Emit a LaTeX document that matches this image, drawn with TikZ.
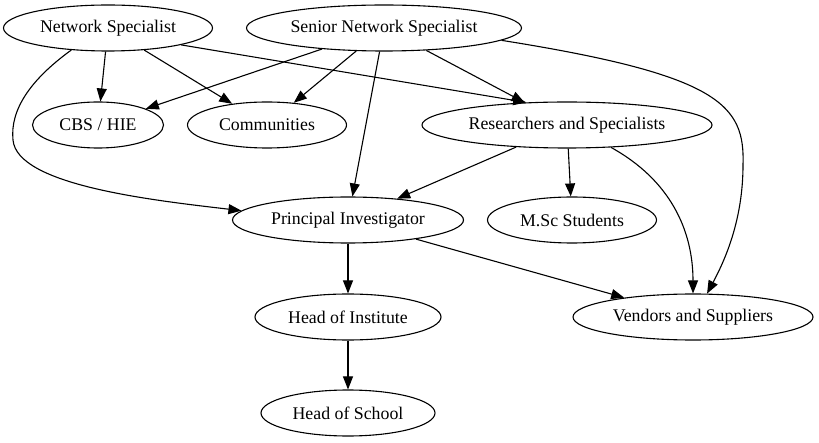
\documentclass[tikz,border=0pt]{standalone}
\usepackage{fontspec}
\setmainfont{Liberation Serif}
\usetikzlibrary{shapes.geometric,arrows.meta}
\tikzstyle{role}=[draw, ellipse, line width=1.1pt, inner sep=0pt,
    minimum height=46pt, font=\fontsize{17.8}{20}\selectfont]
\def\rowa{28}
\def\rowb{125}
\def\rowc{220}
\def\rowd{317}
\def\rowe{413}

\begin{document}
\begin{tikzpicture}[x=1pt, y=-1pt, line width=1.1pt,
    >={Triangle[length=13pt,width=10pt]}]
	\useasboundingbox (0,0) rectangle (819,443);

	% top row
	\node (ns) [role, minimum width=209pt] at (108,\rowa) {Network Specialist};
	\node (sns) [role, minimum width=275pt] at (384,\rowa) {Senior Network Specialist};

	% second row
	\node (cbs) [role, minimum width=131pt] at (98,\rowb) {CBS / HIE};
	\node (com) [role, minimum width=159pt] at (267,\rowb) {Communities};
	\node (res) [role, minimum width=290pt] at (567,\rowb) {Researchers and Specialists};

	\node (pi) [role, minimum width=231pt] at (348,\rowc) {Principal Investigator};
	\node (msc) [role, minimum width=169pt] at (572,\rowc) {M.Sc Students};

	\node (hoi) [role, minimum width=186pt] at (348,\rowd) {Head of Institute};
	\node (ven) [role, minimum width=240pt] at (693,\rowd) {Vendors and Suppliers};

	\node (hos) [role, minimum width=174pt] at (348,\rowe) {Head of School};

	% network specialist
	\draw [->] (ns) -- (cbs);
	\draw [->] (ns) -- (com);
	\draw [->] (ns.-13) -- (res.151);
	\draw [->] (ns.-149) .. controls (30,80) and (10,110) .. (13,140)
	    .. controls (17,185) and (150,200) .. (pi.175);

	% senior network specialist
	\draw [->] (sns) -- (cbs);
	\draw [->] (sns) -- (com);
	\draw [->] (sns) -- (pi);
	\draw [->] (sns) -- (res);
	\draw [->] (sns.-6) .. controls (720,75) and (745,105) .. (743,165)
	    .. controls (743,220) and (725,260) .. (ven.59);

	\draw [->] (res) -- (pi);
	\draw [->] (res) -- (msc);
	\draw [->] (res.-27) .. controls (670,180) and (693,230) .. (ven.north);

	\draw [->] (pi) -- (hoi);
	\draw [->] (pi) -- (ven);
	\draw [->] (hoi) -- (hos);
\end{tikzpicture}
\end{document}
